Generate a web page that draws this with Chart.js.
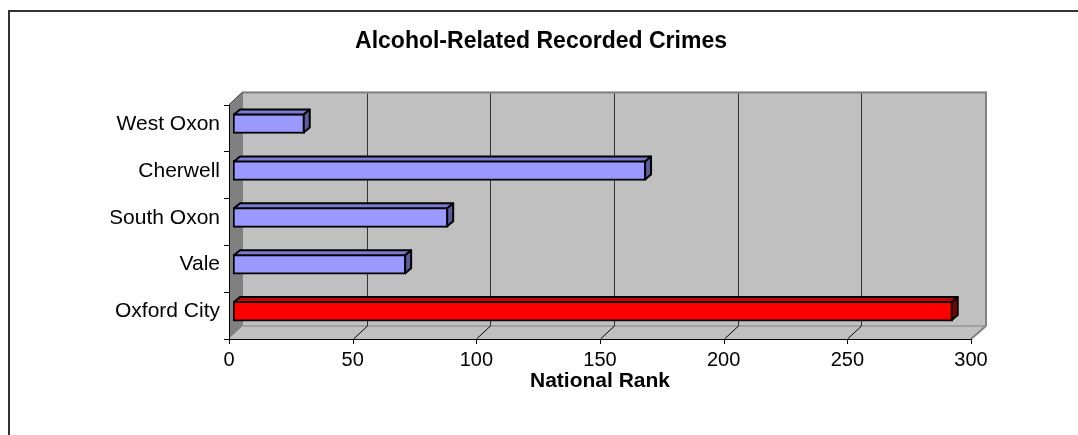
<!DOCTYPE html>
<html>
<head>
<meta charset="utf-8">
<title>Alcohol-Related Recorded Crimes</title>
<script src="https://cdn.jsdelivr.net/npm/chart.js@4.4.0/dist/chart.umd.min.js"></script>
<style>
  html, body { margin: 0; padding: 0; background: #fff; }
  canvas { display: block; }
</style>
</head>
<body>
<canvas id="crimes" width="1078" height="435"></canvas>
<script>
const categories = ["West Oxon", "Cherwell", "South Oxon", "Vale", "Oxford City"];
const nationalRank = [29, 167, 87, 70, 291];
const rankTicks = [0, 50, 100, 150, 200, 250, 300];

// Oxford City is highlighted in red, the other districts in lavender
const frontColors = ["#9999ff", "#9999ff", "#9999ff", "#9999ff", "#ff0000"];
const topColors = ["#7b7bd0", "#7b7bd0", "#7b7bd0", "#7b7bd0", "#c80000"];
const sideColors = ["#5c5c9c", "#5c5c9c", "#5c5c9c", "#5c5c9c", "#800000"];

const WALL = { x: 14, y: -13 };     // depth of the back wall
const BAR_SHIFT = { x: 4, y: -4.5 }; // bars sit a little behind the front axis
const BAR_DEPTH = { x: 6, y: -5 };

function poly(ctx, pts, fill, stroke, lw) {
  ctx.beginPath();
  ctx.moveTo(pts[0][0], pts[0][1]);
  for (let i = 1; i < pts.length; i++) ctx.lineTo(pts[i][0], pts[i][1]);
  ctx.closePath();
  if (fill) { ctx.fillStyle = fill; ctx.fill(); }
  if (stroke) { ctx.strokeStyle = stroke; ctx.lineWidth = lw || 1; ctx.stroke(); }
}

function line(ctx, x1, y1, x2, y2, color, lw) {
  ctx.beginPath();
  ctx.moveTo(x1, y1);
  ctx.lineTo(x2, y2);
  ctx.strokeStyle = color;
  ctx.lineWidth = lw || 1;
  ctx.stroke();
}

const excel3d = {
  id: "excel3d",
  beforeDraw(chart) {
    const ctx = chart.ctx;
    ctx.save();
    ctx.fillStyle = "#fff";
    ctx.fillRect(0, 0, chart.width, chart.height);
    ctx.strokeStyle = "#333";
    ctx.lineWidth = 2;
    ctx.strokeRect(9, 11, chart.width + 20, chart.height + 20);
    ctx.restore();
  },
  beforeDatasetsDraw(chart) {
    const ctx = chart.ctx;
    const { left, right, top, bottom } = chart.chartArea;
    const xs = chart.scales.x;
    const ys = chart.scales.y;
    ctx.save();

    // back wall, left wall and floor
    ctx.fillStyle = "#c0c0c0";
    ctx.fillRect(left + WALL.x, top + WALL.y, right - left, bottom - top);
    poly(ctx, [[left, top], [left + WALL.x, top + WALL.y], [left + WALL.x, bottom + WALL.y], [left, bottom]], "#808080");
    poly(ctx, [[left, bottom], [left + WALL.x, bottom + WALL.y], [right + WALL.x, bottom + WALL.y], [right, bottom]], "#c0c0c0");

    // wall edges
    line(ctx, left + WALL.x, top + WALL.y + 1, right + WALL.x + 1, top + WALL.y + 1, "#808080", 2);
    line(ctx, right + WALL.x + 1, top + WALL.y, right + WALL.x + 1, bottom + WALL.y, "#808080", 2);
    line(ctx, left + WALL.x, bottom + WALL.y, right + WALL.x, bottom + WALL.y, "#808080", 1);
    line(ctx, right, bottom, right + WALL.x + 1, bottom + WALL.y, "#808080", 2);
    line(ctx, left, top, left + WALL.x, top + WALL.y, "#404040", 1);

    // gridlines on the back wall and across the floor
    rankTicks.slice(1, -1).forEach(v => {
      const px = Math.round(xs.getPixelForValue(v)) + 0.5;
      line(ctx, px + WALL.x, top + WALL.y + 2, px + WALL.x, bottom + WALL.y, "#333", 1);
      line(ctx, px, bottom, px + WALL.x, bottom + WALL.y, "#000", 1);
    });

    // front axes with tick marks
    line(ctx, left, bottom + 0.5, right, bottom + 0.5, "#000", 1);
    rankTicks.forEach(v => {
      const px = Math.round(xs.getPixelForValue(v)) + 0.5;
      line(ctx, px, bottom, px, bottom + 5, "#000", 1);
    });
    line(ctx, left + 0.5, top, left + 0.5, bottom + 1, "#000", 1);
    for (let i = 0; i <= categories.length; i++) {
      const py = Math.round(ys.getPixelForValue(i - 0.5)) + 0.5;
      line(ctx, left - 5, py, left, py, "#000", 1);
    }

    ctx.restore();
    ctx.save();
    ctx.translate(BAR_SHIFT.x, BAR_SHIFT.y);
  },
  afterDatasetsDraw(chart) {
    const ctx = chart.ctx;
    const meta = chart.getDatasetMeta(0);
    ctx.lineJoin = "round";
    meta.data.forEach((bar, i) => {
      const { x, y, base, height } = bar.getProps(["x", "y", "base", "height"], true);
      const t = y - height / 2 + 1;
      const b = y + height / 2 - 1;
      const x0 = base + 1;
      const x1 = x - 1;
      poly(ctx, [[x0, t], [x0 + BAR_DEPTH.x, t + BAR_DEPTH.y], [x1 + BAR_DEPTH.x, t + BAR_DEPTH.y], [x1, t]], topColors[i], "#000", 2);
      poly(ctx, [[x1, t], [x1 + BAR_DEPTH.x, t + BAR_DEPTH.y], [x1 + BAR_DEPTH.x, b + BAR_DEPTH.y], [x1, b]], sideColors[i], "#000", 2);
    });
    ctx.restore();
  }
};

const font = "'Liberation Sans', Arial, sans-serif";

new Chart(document.getElementById("crimes"), {
  type: "bar",
  data: {
    labels: categories,
    datasets: [{
      label: "National Rank",
      data: nationalRank,
      backgroundColor: frontColors,
      borderColor: "#000",
      borderWidth: 2,
      borderSkipped: false,
      barThickness: 20
    }]
  },
  options: {
    indexAxis: "y",
    responsive: false,
    devicePixelRatio: 1,
    animation: false,
    events: [],
    layout: { padding: { left: 111, right: 107, top: 0, bottom: 0 } },
    plugins: {
      legend: { display: false },
      tooltip: { enabled: false },
      title: {
        display: true,
        text: "Alcohol-Related Recorded Crimes",
        color: "#000",
        font: { family: font, size: 23, weight: "bold" },
        padding: { top: 28, bottom: 49 }
      }
    },
    scales: {
      x: {
        min: rankTicks[0],
        max: rankTicks[rankTicks.length - 1],
        grid: { display: false, drawTicks: false },
        border: { display: false },
        ticks: {
          stepSize: rankTicks[1] - rankTicks[0],
          color: "#000",
          padding: 9,
          font: { family: font, size: 20 }
        },
        title: {
          display: true,
          text: "National Rank",
          color: "#000",
          font: { family: font, size: 21, weight: "bold" },
          padding: { top: 0, bottom: 41 }
        },
        afterFit(scale) { scale.height = 96; }
      },
      y: {
        grid: { display: false, drawTicks: false },
        border: { display: false },
        ticks: {
          color: "#000",
          padding: 9,
          labelOffset: -4,
          font: { family: font, size: 21 }
        },
        afterFit(scale) { scale.width = 118; }
      }
    }
  },
  plugins: [excel3d]
});
</script>
</body>
</html>
